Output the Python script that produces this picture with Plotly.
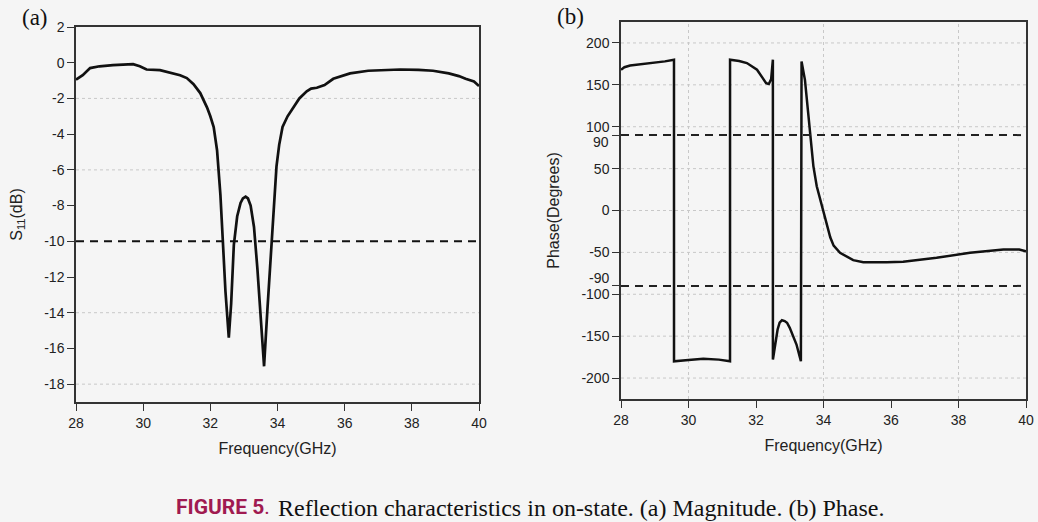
import plotly.graph_objects as go

# ---------------- data ----------------
s11_freq = [28.0, 28.2, 28.42, 28.7, 29.1, 29.4, 29.7, 29.9, 30.1, 30.5, 30.8, 31.1, 31.3, 31.5,
            31.7, 31.9, 32.0, 32.1, 32.2, 32.3, 32.37, 32.45, 32.55, 32.62, 32.7, 32.8, 32.9,
            32.97, 33.05, 33.12, 33.2, 33.3, 33.4, 33.5, 33.6, 33.7, 33.83, 33.9, 33.97, 34.05,
            34.15, 34.3, 34.47, 34.65, 34.87, 35.0, 35.17, 35.4, 35.66, 35.9, 36.16, 36.7, 37.2,
            37.65, 38.2, 38.63, 39.1, 39.4, 39.6, 39.85, 40.0]
s11_db = [-0.95, -0.7, -0.3, -0.2, -0.13, -0.1, -0.08, -0.2, -0.38, -0.42, -0.55, -0.7, -0.86, -1.2,
          -1.7, -2.5, -3.0, -3.6, -4.9, -7.4, -9.9, -12.8, -15.4, -13.5, -10.2, -8.6, -7.85,
          -7.6, -7.5, -7.6, -8.0, -9.2, -11.5, -14.5, -17.0, -13.8, -10.0, -7.8, -5.8, -4.6,
          -3.6, -3.0, -2.5, -2.0, -1.6, -1.45, -1.4, -1.25, -0.9, -0.75, -0.6, -0.45, -0.4,
          -0.38, -0.4, -0.45, -0.6, -0.75, -0.9, -1.05, -1.3]

phase_freq = [28.0, 28.1, 28.27, 28.6, 28.95, 29.3, 29.57, 29.571, 30.0, 30.44, 30.9, 31.23, 31.231,
              31.5, 31.73, 32.03, 32.2, 32.3, 32.38, 32.45, 32.5, 32.501, 32.57, 32.64, 32.7,
              32.77, 32.85, 32.92, 33.0, 33.1, 33.2, 33.33, 33.35, 33.45, 33.55, 33.6, 33.65,
              33.7, 33.8, 33.9, 34.0, 34.1, 34.2, 34.3, 34.4, 34.49, 34.88, 35.18, 35.87, 36.36,
              37.35, 38.34, 39.33, 39.8, 40.0]
phase_deg = [168, 171, 173, 174.5, 176, 178, 180, -180, -178.5, -177, -178, -180, 180,
             178.5, 176, 168, 158, 152, 151, 157, 180, -178, -160, -142, -134,
             -131, -132, -134, -140, -150, -160, -180, 178, 156, 113, 93, 73,
             53, 29, 13, -1, -17, -32, -42, -47, -50.5, -59.3, -61.7, -61.7, -61.3,
             -56.5, -50.5, -46.6, -46.6, -48.6]

s11_ref = -10
phase_refs = [90, -90]
freq_span = [28, 40]

s11_ticks = [2, 0, -2, -4, -6, -8, -10, -12, -14, -16, -18]
s11_grid = [-2, -6, -14, -18]
phase_ticks = [200, 150, 100, 90, 50, 0, -50, -90, -100, -150, -200]
phase_grid = [200, 150, 100, 50, 0, -50, -100, -150, -200]
phase_xgrid = [30, 34, 38]
freq_ticks = [28, 30, 32, 34, 36, 38, 40]

# ---------------- figure ----------------
W, H = 1038, 522
BG = "#f5f5f5"
LINE = "#111111"
fig = go.Figure()

fig.add_trace(go.Scatter(x=s11_freq, y=s11_db, mode="lines", line=dict(color=LINE, width=2.7),
                         xaxis="x", yaxis="y", showlegend=False))
fig.add_trace(go.Scatter(x=freq_span, y=[s11_ref, s11_ref], mode="lines",
                         line=dict(color="#111111", width=2, dash="8px,6px"),
                         xaxis="x", yaxis="y", showlegend=False))
fig.add_trace(go.Scatter(x=phase_freq, y=phase_deg, mode="lines", line=dict(color=LINE, width=2.5),
                         xaxis="x2", yaxis="y2", showlegend=False))
for r in phase_refs:
    fig.add_trace(go.Scatter(x=freq_span, y=[r, r], mode="lines",
                             line=dict(color="#222222", width=2, dash="8px,6px"),
                             xaxis="x2", yaxis="y2", showlegend=False))

shapes = []
for g in s11_grid:
    shapes.append(dict(type="line", xref="x", yref="y", x0=freq_span[0], x1=freq_span[1], y0=g, y1=g,
                       line=dict(color="#c8c8c8", width=1, dash="dot"), layer="below"))
for g in phase_grid:
    shapes.append(dict(type="line", xref="x2", yref="y2", x0=freq_span[0], x1=freq_span[1], y0=g, y1=g,
                       line=dict(color="#c8c8c8", width=1, dash="dot"), layer="below"))
for g in phase_xgrid:
    shapes.append(dict(type="line", xref="x2", yref="y2", x0=g, x1=g, y0=-225, y1=225,
                       line=dict(color="#c8c8c8", width=1, dash="dot"), layer="below"))


def lab(v):
    return str(v).replace("−", "-")


tickfont = dict(family="Liberation Sans, Arial", size=14, color="#222222")
titlefont = dict(family="Liberation Sans, Arial", size=16, color="#222222")
axis_common = dict(showline=True, linecolor="#333333", linewidth=1.5, mirror=True,
                   ticks="outside", ticklen=7, tickwidth=1.2, tickcolor="#333333",
                   showgrid=False, zeroline=False, tickfont=tickfont, automargin=False)

# 90 / -90 labels are nudged apart from 100 / -100 as in the reference, so they are annotations
phase_ticktext = ["" if v in phase_refs else lab(v) for v in phase_ticks]

annotations = [
    dict(text="(a)", xref="paper", yref="paper", x=20 / W, y=1 - 18 / H, xanchor="left",
         yanchor="middle", showarrow=False,
         font=dict(family="Liberation Serif, Times New Roman", size=23, color="#111111")),
    dict(text="(b)", xref="paper", yref="paper", x=555 / W, y=1 - 16 / H, xanchor="left",
         yanchor="middle", showarrow=False,
         font=dict(family="Liberation Serif, Times New Roman", size=23, color="#111111")),
    dict(text="<b>FIGURE 5</b>.", xref="paper", yref="paper", x=174 / W, y=1 - 507 / H,
         xanchor="left", yanchor="middle", showarrow=False,
         font=dict(family="Roboto, Liberation Sans", size=21, color="#a01a50")),
    dict(text="Reflection characteristics in on-state. (a) Magnitude. (b) Phase.",
         xref="paper", yref="paper", x=276 / W, y=1 - 508 / H, xanchor="left", yanchor="middle",
         showarrow=False,
         font=dict(family="Liberation Serif, Times New Roman", size=24, color="#111111")),
]
for r, dy in zip(phase_refs, [-7, 8]):
    annotations.append(dict(text=lab(r), xref="paper", yref="y2", x=611 / W, y=r, yshift=dy,
                            xanchor="right", yanchor="middle", showarrow=False, font=tickfont))

fig.update_layout(
    width=W, height=H,
    margin=dict(l=0, r=0, t=0, b=0),
    paper_bgcolor=BG, plot_bgcolor=BG,
    shapes=shapes,
    xaxis=dict(domain=[76 / W, 479 / W], range=[28, 40], tickvals=freq_ticks,
               ticktext=[lab(v) for v in freq_ticks], anchor="y",
               title=dict(text="Frequency(GHz)", font=titlefont, standoff=13), **axis_common),
    yaxis=dict(domain=[1 - 402 / H, 1 - 27 / H], range=[-19, 2], tickvals=s11_ticks,
               ticktext=[lab(v) for v in s11_ticks], anchor="x",
               title=dict(text="S<sub>11</sub>(dB)", font=titlefont, standoff=18), **axis_common),
    xaxis2=dict(domain=[621 / W, 1026 / W], range=[28, 40], tickvals=freq_ticks,
                ticktext=[lab(v) for v in freq_ticks], anchor="y2",
                title=dict(text="Frequency(GHz)", font=titlefont, standoff=13), **axis_common),
    yaxis2=dict(domain=[1 - 399 / H, 1 - 22 / H], range=[-225, 225], tickvals=phase_ticks,
                ticktext=phase_ticktext, anchor="x2",
                title=dict(text="Phase(Degrees)", font=titlefont, standoff=18), **axis_common),
    annotations=annotations,
)

fig.write_html("out.html", config={"displayModeBar": False},
               post_script="document.body.style.margin='0';document.body.style.overflow='hidden';")
